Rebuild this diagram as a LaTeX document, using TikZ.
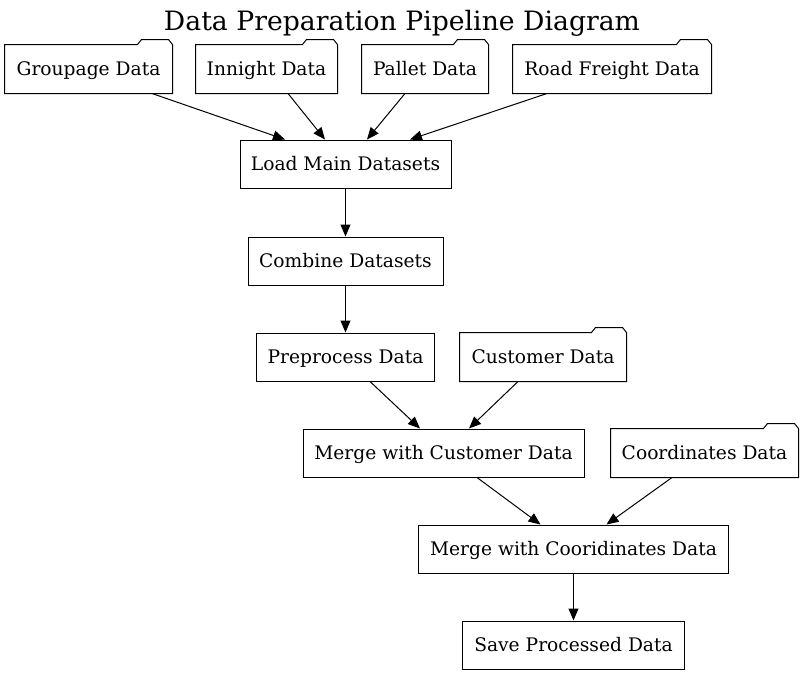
\documentclass[tikz,border=0pt]{standalone}
\usepackage{fontspec}
\setmainfont{DejaVu Serif}
\usetikzlibrary{calc,arrows.meta}
\begin{document}
\begin{tikzpicture}[x=0.75pt,y=-0.75pt,
  box/.style={draw,line width=0.75pt,minimum height=36pt,inner sep=0pt,text height=12pt,text depth=3pt,font=\fontsize{14pt}{16pt}\selectfont},
  folder/.style={line width=0.75pt,minimum height=36pt,inner sep=0pt,text height=12pt,text depth=3pt,font=\fontsize{14pt}{16pt}\selectfont},
  edge/.style={line width=0.75pt,-{Triangle[length=9pt,width=7.5pt]}}]
\useasboundingbox (0,0) rectangle (804,675);
\node[font=\fontsize{20pt}{22pt}\selectfont] (title) at (402,23) {Data Preparation Pipeline Diagram};
\node[folder,minimum width=125.25pt] (g) at (88.5,69) {Groupage Data};
\node[folder,minimum width=105.75pt] (i) at (266.5,69) {Innight Data};
\node[folder,minimum width=94.5pt] (p) at (425,69) {Pallet Data};
\node[folder,minimum width=148.5pt] (r) at (612,69) {Road Freight Data};
\node[box,minimum width=158.25pt] (load) at (345.5,164) {Load Main Datasets};
\node[box,minimum width=146.25pt] (comb) at (345.5,261) {Combine Datasets};
\node[box,minimum width=133.5pt] (pre) at (345.5,357) {Preprocess Data};
\node[folder,minimum width=124.5pt] (cu) at (543,357) {Customer Data};
\node[box,minimum width=210.75pt] (mc) at (443.5,453) {Merge with Customer Data};
\node[folder,minimum width=140.25pt] (co) at (704.5,453) {Coordinates Data};
\node[box,minimum width=232.5pt] (mco) at (573.5,549) {Merge with Cooridinates Data};
\node[box,minimum width=166.5pt] (save) at (573.5,645) {Save Processed Data};
\foreach \n in {g,i,p,r,cu,co}
  \draw[line width=0.75pt,line join=miter] (\n.north west) -- ($(\n.north east)+(-35,0)$) -- ++(4,-5) -- ($(\n.north east)+(-4,-5)$) -- (\n.north east) -- (\n.south east) -- (\n.south west) -- cycle;
\draw[edge] ($(g.south)+(63.5,0)$) -- ($(load.north)+(-60.5,0)$);
\draw[edge] ($(i.south)+(21.5,0)$) -- ($(load.north)+(-20.5,0)$);
\draw[edge] ($(p.south)+(-20,0)$) -- ($(load.north)+(21.5,0)$);
\draw[edge] ($(r.south)+(-65,0)$) -- ($(load.north)+(64.5,0)$);
\draw[edge] (load.south) -- (comb.north);
\draw[edge] (comb.south) -- (pre.north);
\draw[edge] ($(pre.south)+(24.5,0)$) -- ($(mc.north)+(-23.5,0)$);
\draw[edge] ($(cu.south)+(-25,0)$) -- ($(mc.north)+(25.5,0)$);
\draw[edge] ($(mc.south)+(33.5,0)$) -- ($(mco.north)+(-33,0)$);
\draw[edge] ($(co.south)+(-32.5,0)$) -- ($(mco.north)+(33,0)$);
\draw[edge] (mco.south) -- (save.north);
\end{tikzpicture}
\end{document}
